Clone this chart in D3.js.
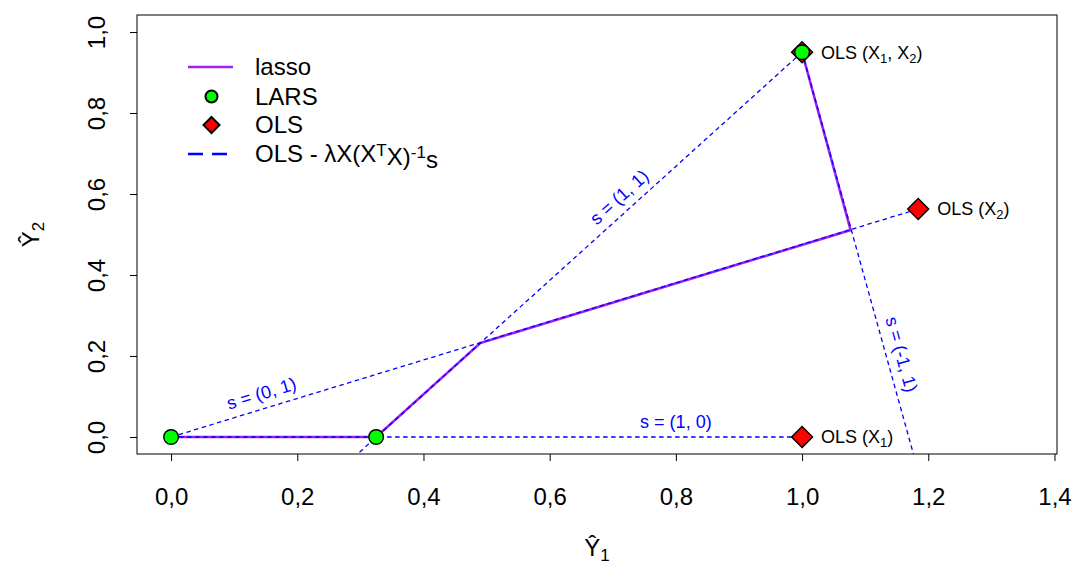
<!DOCTYPE html>
<html>
<head>
<meta charset="utf-8">
<script src="https://cdn.jsdelivr.net/npm/d3@7"></script>
<style>
  body { margin: 0; background: #fff; }
  text { font-family: "Liberation Sans", Arial, sans-serif; }
</style>
</head>
<body>
<svg id="chart" width="1073" height="562"></svg>
<script>
// chart values
const lassoX = [0, 0.325, 0.49, 1.077, 1.0];
const lassoY = [0, 0, 0.232, 0.511, 0.95];
const larsX = [0, 0.325, 1.0];
const larsY = [0, 0, 0.95];
const olsX = [1.0, 1.184, 1.0];
const olsY = [0.95, 0.563, 0];
const olsNames = [["X", "1", ", X", "2"], ["X", "2"], ["X", "1"]];
// dashed directions: start, end, label, label position along the segment
const dirLabels = ["s = (1, 0)", "s = (0, 1)", "s = (1, 1)", "s = (-1, 1)"];
const dirX0 = [0, 0, 1.0, 1.0];
const dirY0 = [0, 0, 0.95, 0.95];
const dirX1 = [1.0, 1.184, 0.27, 1.185];
const dirY1 = [0, 0.563, -0.078, -0.09];
const dirLabelT = [0.8, 0.127, 0.375, 0.727];
const xTicks = [0, 0.2, 0.4, 0.6, 0.8, 1.0, 1.2, 1.4];
const yTicks = [0, 0.2, 0.4, 0.6, 0.8, 1.0];

const svg = d3.select("#chart");
const margin = { top: 15, right: 16, bottom: 108, left: 137 };
const width = +svg.attr("width");
const height = +svg.attr("height");
const innerWidth = width - margin.left - margin.right;
const innerHeight = height - margin.top - margin.bottom;

const x = d3.scaleLinear().domain([-0.054, 1.404]).range([0, innerWidth]);
const y = d3.scaleLinear().domain([-0.042, 1.042]).range([innerHeight, 0]);
const fmt = d => d3.format(".1f")(d).replace(".", ",");

const g = svg.append("g").attr("transform", `translate(${margin.left}, ${margin.top})`);

g.append("clipPath").attr("id", "clip")
  .append("rect").attr("width", innerWidth).attr("height", innerHeight);

// axes
const xAxisG = g.append("g")
  .attr("transform", `translate(0, ${innerHeight})`)
  .call(d3.axisBottom(x).tickValues(xTicks).tickFormat(fmt).tickSize(7).tickSizeOuter(0).tickPadding(27));
xAxisG.select(".domain").remove();
xAxisG.selectAll("text").style("font-size", "24px").attr("fill", "#000");
xAxisG.selectAll("line").attr("stroke", "#000");

const yAxisG = g.append("g")
  .call(d3.axisLeft(y).tickValues(yTicks).tickFormat(fmt).tickSize(7).tickSizeOuter(0));
yAxisG.select(".domain").remove();
yAxisG.selectAll("line").attr("stroke", "#000");
yAxisG.selectAll("text")
  .style("font-size", "24px").attr("fill", "#000")
  .attr("x", 0).attr("y", -32).attr("dy", null)
  .attr("text-anchor", "middle")
  .attr("transform", "rotate(-90)");

// box
g.append("rect")
  .attr("width", innerWidth).attr("height", innerHeight)
  .attr("fill", "none").attr("stroke", "#000").attr("stroke-width", 1);

// axis titles
const xt = svg.append("text")
  .attr("x", margin.left + innerWidth / 2).attr("y", 556)
  .attr("text-anchor", "middle").style("font-size", "24px");
xt.append("tspan").text("\u0176");
xt.append("tspan").attr("dy", 5).style("font-size", "17px").text("1");

const yt = svg.append("text")
  .attr("transform", `translate(39, ${margin.top + innerHeight / 2}) rotate(-90)`)
  .attr("text-anchor", "middle").style("font-size", "24px");
yt.append("tspan").text("\u0176");
yt.append("tspan").attr("dy", 5).style("font-size", "17px").text("2");

const plot = g.append("g").attr("clip-path", "url(#clip)");

// lasso path
const lassoPts = lassoX.map((d, i) => [d, lassoY[i]]);
plot.append("path")
  .datum(lassoPts)
  .attr("d", d3.line().x(d => x(d[0])).y(d => y(d[1])))
  .attr("fill", "none")
  .attr("stroke", "#A020F0")
  .attr("stroke-width", 2.6);

// dashed direction lines
const dirs = dirLabels.map((label, i) => ({
  label, x0: dirX0[i], y0: dirY0[i], x1: dirX1[i], y1: dirY1[i], t: dirLabelT[i]
}));

plot.selectAll(".dir")
  .data(dirs)
  .enter()
  .append("line")
  .attr("class", "dir")
  .attr("x1", d => x(d.x0)).attr("y1", d => y(d.y0))
  .attr("x2", d => x(d.x1)).attr("y2", d => y(d.y1))
  .attr("stroke", "#0000FF")
  .attr("stroke-width", 1.3)
  .attr("stroke-dasharray", "4.5,3.5");

g.selectAll(".dirlab")
  .data(dirs)
  .enter()
  .append("text")
  .attr("class", "dirlab")
  .attr("transform", d => {
    const px0 = x(d.x0), py0 = y(d.y0), px1 = x(d.x1), py1 = y(d.y1);
    const px = px0 + (px1 - px0) * d.t;
    const py = py0 + (py1 - py0) * d.t;
    let a = Math.atan2(py1 - py0, px1 - px0) * 180 / Math.PI;
    if (a > 90) a -= 180;
    if (a < -90) a += 180;
    return `translate(${px}, ${py}) rotate(${a})`;
  })
  .attr("y", -9)
  .attr("text-anchor", "middle")
  .attr("fill", "#0000FF")
  .style("font-size", "18px")
  .text(d => d.label);

// OLS diamonds
const diamond = s => `M0,${-s}L${s},0L0,${s}L${-s},0Z`;
g.selectAll(".ols")
  .data(olsX.map((d, i) => [d, olsY[i]]))
  .enter()
  .append("path")
  .attr("class", "ols")
  .attr("transform", d => `translate(${x(d[0])}, ${y(d[1])})`)
  .attr("d", diamond(10.5))
  .attr("fill", "#FF0000")
  .attr("stroke", "#000")
  .attr("stroke-width", 1.4);

// LARS points
g.selectAll(".lars")
  .data(larsX.map((d, i) => [d, larsY[i]]))
  .enter()
  .append("circle")
  .attr("class", "lars")
  .attr("cx", d => x(d[0])).attr("cy", d => y(d[1]))
  .attr("r", 7.3)
  .attr("fill", "#00FF00")
  .attr("stroke", "#000")
  .attr("stroke-width", 1.4);

// OLS labels
olsX.forEach((d, i) => {
  const t = g.append("text")
    .attr("x", x(d) + 19).attr("y", y(olsY[i]))
    .attr("dy", "0.35em")
    .style("font-size", "18px");
  t.append("tspan").text("OLS (");
  olsNames[i].forEach((part, j) => {
    if (j % 2 === 0) {
      t.append("tspan").attr("dy", j === 0 ? 0 : -4).text(part);
    } else {
      t.append("tspan").attr("dy", 4).style("font-size", "13px").text(part);
    }
  });
  t.append("tspan").attr("dy", -4).text(")");
});

// legend
const legend = svg.append("g").attr("transform", "translate(188, 67)");
const legendRows = [0, 29.5, 58, 87];

legend.append("line")
  .attr("x1", 0).attr("x2", 45).attr("y1", legendRows[0]).attr("y2", legendRows[0])
  .attr("stroke", "#A020F0").attr("stroke-width", 2.6);
legend.append("circle")
  .attr("cx", 23.5).attr("cy", legendRows[1]).attr("r", 6)
  .attr("fill", "#00FF00").attr("stroke", "#000").attr("stroke-width", 2);
legend.append("path")
  .attr("transform", `translate(23.5, ${legendRows[2]})`)
  .attr("d", diamond(8))
  .attr("fill", "#FF0000").attr("stroke", "#000").attr("stroke-width", 2);
legend.append("line")
  .attr("x1", 0).attr("x2", 45).attr("y1", legendRows[3]).attr("y2", legendRows[3])
  .attr("stroke", "#0000FF").attr("stroke-width", 2.6).attr("stroke-dasharray", "15,9");

const legText = ["lasso", "LARS", "OLS"];
legText.forEach((s, i) => {
  legend.append("text")
    .attr("x", 67).attr("y", legendRows[i]).attr("dy", "0.35em")
    .style("font-size", "24px").text(s);
});
const lt = legend.append("text")
  .attr("x", 67).attr("y", legendRows[3]).attr("dy", "0.35em")
  .style("font-size", "24px");
lt.append("tspan").text("OLS - \u03BBX(X");
lt.append("tspan").attr("dy", "-0.4em").style("font-size", "17px").text("T");
lt.append("tspan").attr("dy", "0.4em").text("X)");
lt.append("tspan").attr("dy", "-0.4em").style("font-size", "17px").text("-1");
lt.append("tspan").attr("dy", "0.4em").text("s");
</script>
</body>
</html>
